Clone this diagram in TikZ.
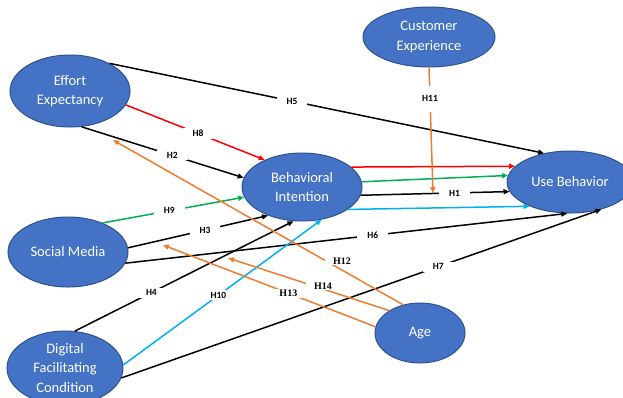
\documentclass[tikz,border=0pt]{standalone}
\usepackage{fontspec}
\setmainfont{Carlito}
\newfontfamily\timesfont{Liberation Serif}
\usetikzlibrary{shapes.geometric,arrows.meta}
\definecolor{nodeblue}{HTML}{4472C4}
\definecolor{nodeedge}{HTML}{2F528F}
\definecolor{hred}{HTML}{FF0000}
\definecolor{hgreen}{HTML}{00B050}
\definecolor{hcyan}{HTML}{00B0F0}
\definecolor{horange}{HTML}{ED7D31}
\tikzset{
  construct/.style={ellipse, draw=nodeedge, line width=1pt, fill=nodeblue, text=white,
    align=center, inner sep=0pt, font=\fontsize{14.5}{19.5}\selectfont},
  hyp/.style={fill=white, inner xsep=10pt, inner ysep=2pt, text=black, font=\bfseries\fontsize{9.5}{11}\selectfont},
  hypt/.style={fill=white, inner xsep=8pt, inner ysep=1pt, text=black, font=\timesfont\bfseries\fontsize{10}{11}\selectfont},
  link/.style={line width=1.5pt, ->}
}
\begin{document}
\begin{tikzpicture}[x=1pt, y=-1pt, >={Triangle[length=6pt,width=5pt]}]
        \useasboundingbox (0,0) rectangle (623,397);
        \clip (0,0) rectangle (623,397);

        % Costrutti
        \node[construct, minimum width=120pt, minimum height=72pt] (ee) at (70,91) {Effort\\Expectancy};
        \node[construct, minimum width=132pt, minimum height=60pt] (ce) at (429,37) {Customer\\Experience};
        \node[construct, minimum width=120pt, minimum height=68pt] (bi) at (302,187) {Behavioral\\Intention};
        \node[construct, minimum width=126pt, minimum height=62pt] (ub) at (570,182) {Use Behavior};
        \node[construct, minimum width=120pt, minimum height=70pt] (sm) at (68,252) {Social Media};
        \node[construct, minimum width=116pt, minimum height=74pt, inner ysep=-6pt] (dfc) at (65,368) {Digital\\Facilitating\\Condition};
        \node[construct, minimum width=90pt, minimum height=60pt] (age) at (420,333) {Age};

        % Punti liberi dei moderatori
        \coordinate (h11end) at (433,193);
        \coordinate (h12end) at (113,140);
        \coordinate (h13end) at (163,245);
        \coordinate (h14end) at (228,258);

        % Effetti diretti
        \draw[link] (ee.35) -- (ub.132) node[hyp, pos=0.42] (h5) {H5};
        \draw[link, hred] (ee.-14) -- (bi.144) node[hyp, pos=0.52] (h8) {H8};
        \draw[link] (ee.-72) -- (bi.171) node[hyp, pos=0.56] (h2) {H2};
        \draw[link, hgreen] (sm.40) -- (bi.190) node[hyp, pos=0.47] (h9) {H9};
        \draw[link] (sm.4) -- (bi.220) node[hyp, pos=0.55] (h3) {H3};
        \draw[link] (sm.-11) -- (ub.265) node[hyp, pos=0.56] (h6) {H6};
        \draw[link] (dfc.75) -- (bi.256) node[hyp, pos=0.35] (h4) {H4};
        \draw[link, hcyan] (dfc.3) -- (bi.301) node[hyp, pos=0.48] (h10) {H10};
        \draw[link] (dfc.-10) -- (ub.-41) node[hyp, pos=0.66] (h7) {H7};

        % Intenzione verso comportamento
        \draw[link, hred] (bi.22) -- (ub.164);
        \draw[link, hgreen] (bi.5) -- (ub.174);
        \draw[link] (bi.-8) -- (ub.189) node[hyp, pos=0.63] (h1) {H1};
        \draw[link, hcyan] (bi.-26) -- (ub.211);

        % Moderatori
        \draw[link, horange] (ce.south) -- (h11end) node[hyp, inner xsep=2pt, inner ysep=10pt, pos=0.25] (h11) {H11};
        \draw[link, horange] (age.121) -- (h12end) node[hypt, pos=0.21, yshift=9pt] (h12) {H12};
        \draw[link, horange] (age.144) -- (h14end) node[hypt, pos=0.41, yshift=3pt] (h14) {H14};
        \draw[link, horange] (age.172) -- (h13end) node[hypt, pos=0.41] (h13) {H13};
    \end{tikzpicture}
\end{document}
